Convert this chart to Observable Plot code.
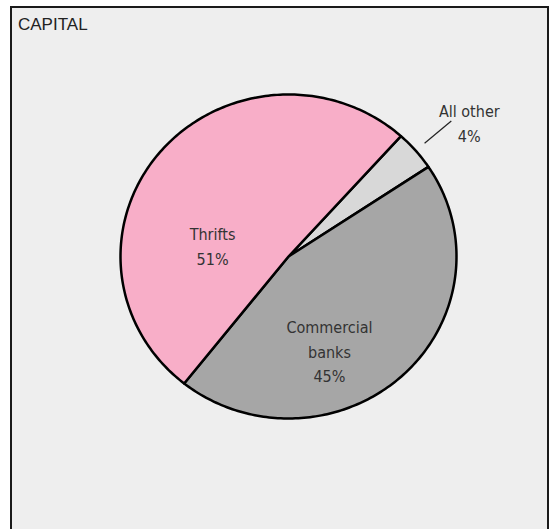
<!DOCTYPE html>
<html>
<head>
<meta charset="utf-8">
<script src="https://cdn.jsdelivr.net/npm/d3@7"></script>
<script src="https://cdn.jsdelivr.net/npm/@observablehq/plot@0.6"></script>
<style>
  html, body { margin: 0; padding: 0; background: #ffffff; width: 551px; height: 529px; overflow: hidden; }
  #box { position: absolute; left: 10px; top: 6px; width: 535px; height: 560px;
         border: 2px solid #1a1a1a; border-bottom: none; background: #eeeeee; }
  #title { position: absolute; left: 18px; top: 15px; font-family: "Liberation Sans", Arial, sans-serif;
           font-size: 17px; line-height: 20px; color: #222; }
  #chart { position: absolute; left: 0; top: 0; }
</style>
</head>
<body>
<div id="box"></div>
<div id="title">CAPITAL</div>
<div id="chart"></div>
<script>
// ---- data ----
const categories = ["All other", "Commercial banks", "Thrifts"];
const shares = [4, 45, 51];
const sliceColors = ["#d8d8d8", "#a6a6a6", "#f8aec8"];
const labelLines = [["All other", "4%"], ["Commercial", "banks", "45%"], ["Thrifts", "51%"]];

// ---- label placement (polar, in pie units) ----
const startDeg = 42;
const labelPlace = [{angle: 52.3, r: 1.36}, {angle: 157, r: 0.624}, {angle: 279.3, r: 0.458}];
const leader = {r0: 1.07, r1: 1.28};

const rad = Math.PI / 180;
const pie = d3.pie().sort(null).value(d => d).startAngle(startDeg * rad).endAngle((startDeg + 360) * rad);
const arcs = pie(shares);

// polygon points per slice
const pts = [];
arcs.forEach((a, i) => {
  pts.push({k: i, x: 0, y: 0, c: sliceColors[i]});
  const n = Math.max(4, Math.ceil((a.endAngle - a.startAngle) / (rad * 1)));
  for (let j = 0; j <= n; j++) {
    const t = a.startAngle + (a.endAngle - a.startAngle) * j / n;
    pts.push({k: i, x: Math.sin(t), y: Math.cos(t), c: sliceColors[i]});
  }
  pts.push({k: i, x: 0, y: 0, c: sliceColors[i]});
});

const labels = labelLines.map((lines, i) => ({
  text: lines.join("\n"),
  x: labelPlace[i].r * Math.sin(labelPlace[i].angle * rad),
  y: labelPlace[i].r * Math.cos(labelPlace[i].angle * rad)
}));

const midOther = (arcs[0].startAngle + arcs[0].endAngle) / 2;
const leaderData = [{
  x1: leader.r1 * Math.sin(midOther), y1: leader.r1 * Math.cos(midOther),
  x2: leader.r0 * Math.sin(midOther), y2: leader.r0 * Math.cos(midOther)
}];

const font = '"Liberation Sans Narrow", "Arial Narrow", "DejaVu Sans Condensed", sans-serif';

const plot = Plot.plot({
  width: 551,
  height: 529,
  margin: 0,
  style: {background: "transparent", overflow: "visible"},
  x: {domain: [-1, 1], range: [120, 456], axis: null},
  y: {domain: [-1, 1], range: [418, 94], axis: null},
  color: {type: "identity"},
  marks: [
    Plot.line(pts, {x: "x", y: "y", z: "k", fill: "c", stroke: "#000", strokeWidth: 2.5, strokeLinejoin: "round"}),
    Plot.link(leaderData, {x1: "x1", y1: "y1", x2: "x2", y2: "y2", stroke: "#222", strokeWidth: 1.2}),
    Plot.text(labels, {x: "x", y: "y", text: "text", fontFamily: font, fontSize: 16, fill: "#333",
      lineHeight: 1.56, textAnchor: "middle", lineAnchor: "middle"})
  ]
});
document.getElementById("chart").appendChild(plot);
</script>
</body>
</html>
